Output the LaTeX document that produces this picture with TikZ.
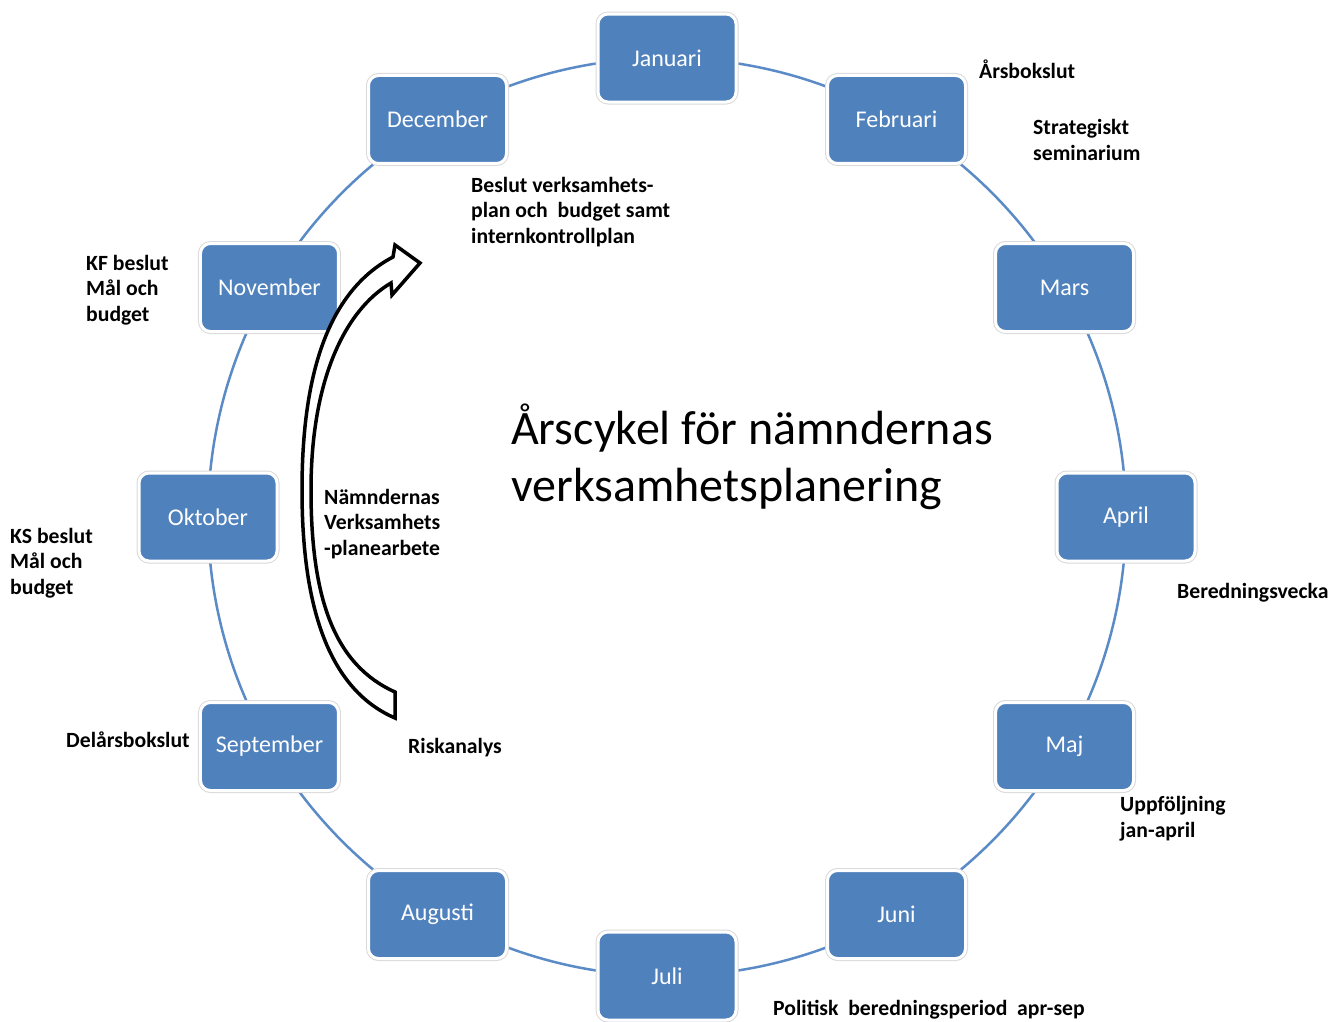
\documentclass[tikz,border=0pt]{standalone}
\usepackage{fontspec}
\usepackage{tikz}
\usetikzlibrary{calc,backgrounds}
\setmainfont{Carlito}
\definecolor{boxblue}{HTML}{4F81BD}
\definecolor{ringblue}{HTML}{5B8BC7}

\begin{document}
\begin{tikzpicture}
	[x=1pt,y=-1pt,
		month/.style={rectangle,rounded corners=10pt,fill=boxblue,draw=white,line width=3pt,
			preaction={draw=black!15,line width=5pt},minimum width=138pt,minimum height=88pt,
			text=white,font=\fontsize{24}{28}\selectfont},
		ring/.style={draw=ringblue,line width=2.5pt},
		note/.style={anchor=base west,align=left,inner sep=0pt,
			font=\fontsize{21.7}{25.5}\selectfont\bfseries},
		bigarrow/.style={draw=black,fill=white,line width=3.5pt,line join=miter}]

	\useasboundingbox (0,0) rectangle (1331,1021);
	\coordinate (ctr) at (667,517);

	% the twelve months round the year
	\foreach \name [count=\i] in {Januari,Februari,Mars,April,Maj,Juni,Juli,Augusti,September,Oktober,November,December}
		\node[month] (m\i) at ($(ctr)+({120-30*\i}:459pt)$) {\name};

	\begin{scope}[on background layer]
		\foreach \i in {1,...,12}
			\draw[ring] (m\i.center) arc[start angle=120-30*\i,end angle=90-30*\i,radius=459pt];
	\end{scope}

	% title (base = last line)
	\node[anchor=base west,align=left,inner sep=0pt,font=\fontsize{48}{57}\selectfont] (title) at (511,501)
		{Årscykel för nämndernas\\verksamhetsplanering};

	% curved arrow
	\draw[bigarrow] (395,718) .. controls (330,690) and (302,610) .. (302,490)
		.. controls (302,370) and (330,290) .. (393,257)
		-- (395,245) -- (420,263) -- (392,295) -- (391,283)
		.. controls (345,310) and (311,380) .. (311,490)
		.. controls (311,600) and (335,665) .. (395,692) -- cycle;

	% notes (placed at the baseline of their last line)
	\node[note] (arsbokslut) at (979,78) {Årsbokslut};
	\node[note] (seminarium) at (1033,160) {Strategiskt\\seminarium};
	\node[note] (beslut) at (471,243) {Beslut verksamhets-\\plan och\ \ budget samt\\internkontrollplan};
	\node[note] (kfbeslut) at (86,321) {KF beslut\\Mål och\\budget};
	\node[note] (ksbeslut) at (10,594) {KS beslut\\Mål och\\budget};
	\node[note] (planearbete) at (324,555) {Nämndernas\\Verksamhets\\-planearbete};
	\node[note] (delars) at (66,747) {Delårsbokslut};
	\node[note] (risk) at (408,753) {Riskanalys};
	\node[note] (beredning) at (1177,598) {Beredningsvecka};
	\node[note] (uppfoljning) at (1120,837) {Uppföljning\\jan-april};
	\node[note] (politisk) at (773,1015) {Politisk\ \ beredningsperiod\ \ apr-sep};

\end{tikzpicture}
\end{document}
